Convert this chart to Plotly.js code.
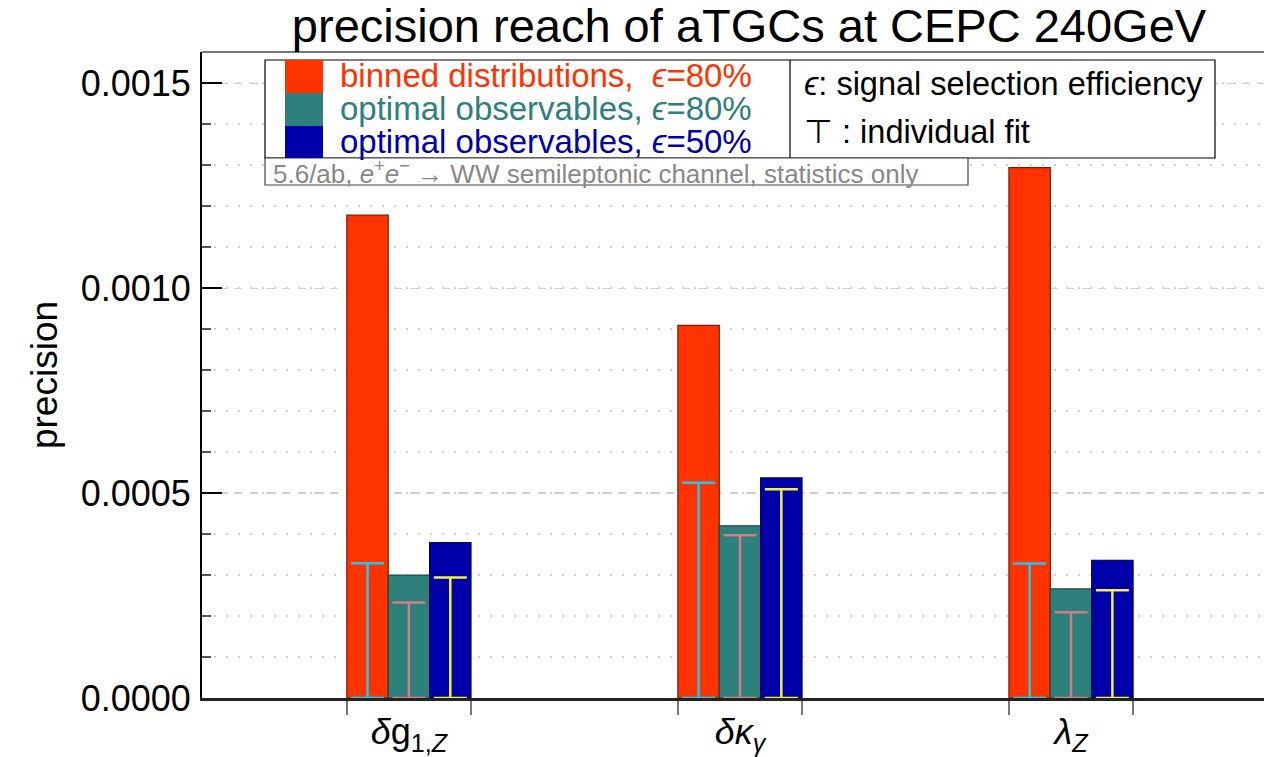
<!DOCTYPE html>
<html>
<head>
<meta charset="utf-8">
<script src="https://cdn.plot.ly/plotly-3.0.1.min.js"></script>
<style>html,body{margin:0;padding:0;background:#fff;overflow:hidden}</style>
</head>
<body>
<div id="chart" style="width:1264px;height:757px"></div>
<script>
// ---- data ----
const categories = ['<i>δ</i>g<sub>1,<i>Z</i></sub>', '<i>δκ</i><sub><i>γ</i></sub>', '<i>λ</i><sub><i>Z</i></sub>'];
const binned80   = [0.001178, 0.000909, 0.001294];
const optimal80  = [0.000300, 0.000420, 0.000266];
const optimal50  = [0.000379, 0.000537, 0.000336];
const indivBinned80  = [0.000329, 0.000525, 0.000328];
const indivOptimal80 = [0.000233, 0.000397, 0.000209];
const indivOptimal50 = [0.000294, 0.000509, 0.000263];
const seriesNames = ['binned distributions,  <i>ϵ</i>=80%', 'optimal observables, <i>ϵ</i>=80%', 'optimal observables, <i>ϵ</i>=50%'];
const yTickVals = [0, 0.0005, 0.0010, 0.0015];
const yTickText = ['0.0000', '0.0005', '0.0010', '0.0015'];

// ---- style ----
const FONT = 'Liberation Sans, Arial, Helvetica, sans-serif';
const barColors = ['#FF3300', '#2E807C', '#0000AA'];
const barLines  = ['#7a1a00', '#1f4a47', '#000050'];
const errColors = ['#22C8EE', '#D08080', '#F2F040'];
const BW = 0.125;
const offsets = [-BW, 0, BW];
const idx = categories.map((_, i) => i);

const barSeries = [binned80, optimal80, optimal50];
const errSeries = [indivBinned80, indivOptimal80, indivOptimal50];

const traces = [];
barSeries.forEach((vals, s) => {
  traces.push({
    type: 'bar', name: seriesNames[s], x: idx.map(i => i + offsets[s]), y: vals,
    width: BW, marker: {color: barColors[s], line: {color: barLines[s], width: 1.2}},
    showlegend: false, hoverinfo: 'y'
  });
});
errSeries.forEach((vals, s) => {
  traces.push({
    type: 'scatter', mode: 'markers', x: idx.map(i => i + offsets[s]), y: vals,
    marker: {size: 1, color: 'rgba(0,0,0,0)'},
    error_y: {type: 'data', symmetric: false, array: vals.map(() => 0), arrayminus: vals,
              color: errColors[s], thickness: 2.5, width: 16.5},
    showlegend: false, hoverinfo: 'y'
  });
});

// plot area in pixels
const L = 202, R = 1264, T = 52, B = 698;
const px = x => (x - L) / (R - L);
const py = y => (B - y) / (B - T);

const shapes = [
  {type:'line', xref:'paper', yref:'paper', x0:0, x1:1, y0:1, y1:1, line:{color:'#777', width:2}},
  {type:'rect', xref:'paper', yref:'paper', x0:px(265), x1:px(1215), y0:py(158), y1:py(60),
   fillcolor:'#fff', line:{color:'#000', width:1.2}},
  {type:'line', xref:'paper', yref:'paper', x0:px(790), x1:px(790), y0:py(158), y1:py(60), line:{color:'#000', width:1.2}},
  {type:'rect', xref:'paper', yref:'paper', x0:px(265), x1:px(968), y0:py(185), y1:py(158),
   fillcolor:'#fff', line:{color:'#444', width:1.2}},
];
const swatchY = [[60, 93], [93, 126], [126, 158]];
swatchY.forEach((yy, s) => {
  shapes.push({type:'rect', xref:'paper', yref:'paper', x0:px(285), x1:px(323), y0:py(yy[1]), y1:py(yy[0]),
    fillcolor: barColors[s], line:{width:0}});
});

const textY = [76, 108, 141];
const annotations = seriesNames.map((t, s) => ({
  xref:'paper', yref:'paper', x:px(338), y:py(textY[s]), xanchor:'left', yanchor:'middle',
  text:t, showarrow:false, font:{family:FONT, size:33, color:barColors[s]}
}));
annotations.push({xref:'paper', yref:'paper', x:px(802), y:py(84), xanchor:'left', yanchor:'middle',
  text:'<i>ϵ</i>: signal selection efficiency', showarrow:false, font:{family:FONT, size:32.5, color:'#000'}});
annotations.push({xref:'paper', yref:'paper', x:px(802), y:py(132), xanchor:'left', yanchor:'middle',
  text:'⊤ : individual fit', showarrow:false, font:{family:FONT, size:32.5, color:'#000'}});
annotations.push({xref:'paper', yref:'paper', x:px(271), y:py(172), xanchor:'left', yanchor:'middle',
  text:'5.6/ab, <i>e</i><sup>+</sup><i>e</i><sup>−</sup> → WW semileptonic channel, statistics only', showarrow:false,
  font:{family:FONT, size:26, color:'#888'}});

const xRange = [-0.625, 2.583];
const edges = [];
idx.forEach(i => { edges.push(i - 1.5 * BW); edges.push(i + 1.5 * BW); });
const mids = idx.slice(1).map(i => i - 0.5);

const layout = {
  width: 1264, height: 757,
  margin: {l: L, r: 1264 - R, t: T, b: 757 - B},
  paper_bgcolor: '#fff', plot_bgcolor: '#fff',
  barmode: 'overlay',
  font: {family: FONT, color: '#000'},
  title: {text: 'precision reach of aTGCs at CEPC 240GeV', font: {family: FONT, size: 47, color: '#000'},
          xref: 'paper', x: px(749), xanchor: 'center', yref: 'container', y: 1 - 26/757, yanchor: 'middle'},
  xaxis: {
    range: xRange, tickmode: 'array', tickvals: idx, ticktext: categories,
    ticks: '', showgrid: false, zeroline: false,
    showline: true, linecolor: '#222', linewidth: 3,
    tickfont: {family: FONT, size: 36, color: '#000'}, ticklabelstandoff: 0,
    minor: {tickmode: 'array', tickvals: edges, ticks: 'outside', ticklen: 14, tickwidth: 2, tickcolor: '#777', showgrid: false}
  },
  xaxis2: {
    range: xRange, overlaying: 'x', anchor: 'y', side: 'bottom', tickmode: 'array', tickvals: mids,
    ticks: 'inside', ticklen: 7, tickwidth: 2, tickcolor: '#000', showticklabels: false,
    showgrid: false, zeroline: false, showline: false
  },
  yaxis: {
    range: [0, 0.001576], tickmode: 'array', tickvals: yTickVals, ticktext: yTickText,
    ticks: 'inside', ticklen: 20, tickwidth: 2, tickcolor: '#000',
    showline: true, linecolor: '#000', linewidth: 2, zeroline: false,
    showgrid: true, gridcolor: '#cfcfcf', gridwidth: 1.2, griddash: '8px,8px',
    tickfont: {family: FONT, size: 36, color: '#000'}, ticklabelstandoff: 2,
    title: {text: 'precision', font: {family: FONT, size: 37, color: '#000'}, standoff: 12},
    minor: {tick0: 0, dtick: 0.0001, ticks: 'inside', ticklen: 9, tickwidth: 1.5, tickcolor: '#555',
            showgrid: true, gridcolor: '#d0d0d0', gridwidth: 1.5, griddash: '2px,10px'}
  },
  shapes: shapes,
  annotations: annotations,
  showlegend: false
};

Plotly.newPlot('chart', traces, layout, {displayModeBar: false, staticPlot: true});
</script>
</body>
</html>
